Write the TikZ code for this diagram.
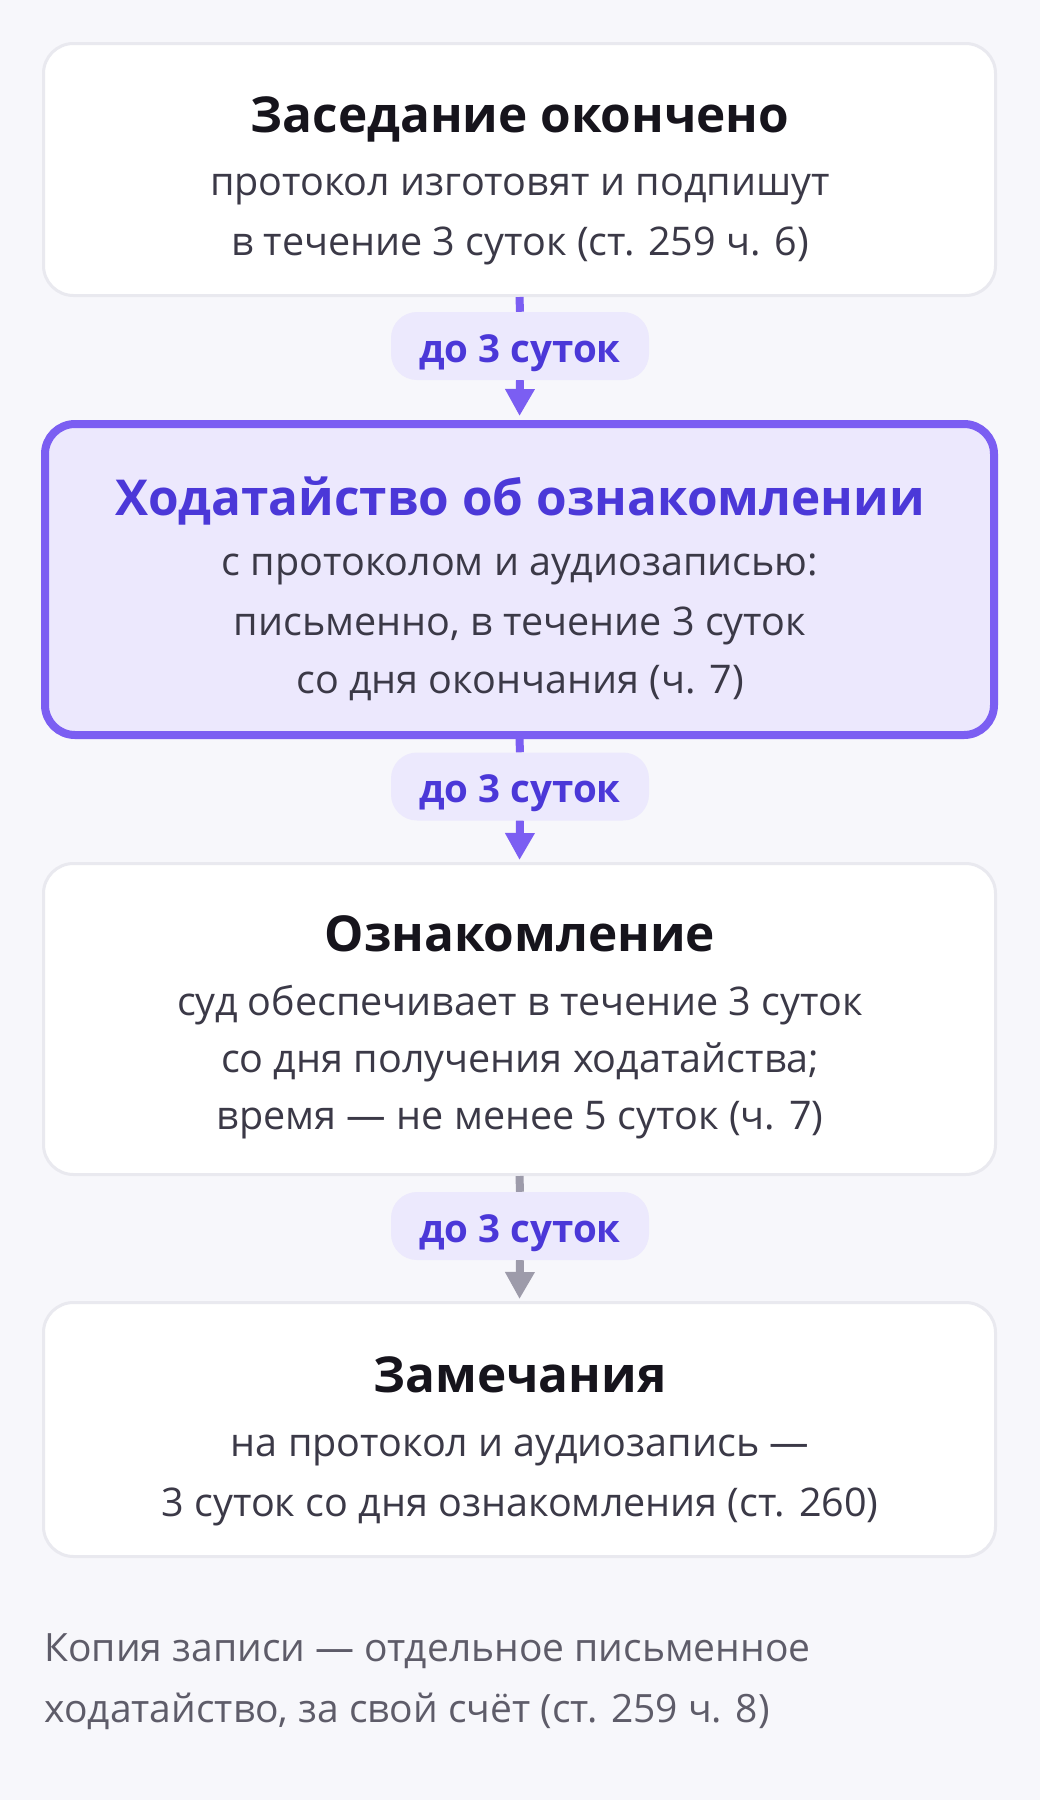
\documentclass[tikz,border=0pt]{standalone}
\usepackage{fontspec}
\setmainfont{Open Sans}
\usetikzlibrary{arrows.meta,positioning}

\definecolor{bgcol}{HTML}{F7F7FB}
\definecolor{edgecol}{HTML}{E9E9EF}
\definecolor{violet}{HTML}{7B5EF2}
\definecolor{lilac}{HTML}{ECE8FD}
\definecolor{pillcol}{HTML}{ECE9FD}
\definecolor{deepviolet}{HTML}{4B38D8}
\definecolor{titlecol}{HTML}{16141C}
\definecolor{bodycol}{HTML}{3B3947}
\definecolor{notecol}{HTML}{5E5C69}
\definecolor{greyarrow}{HTML}{9D9BAA}

\tikzset{
  box/.style={draw=edgecol, line width=3pt, fill=white, rounded corners=30pt,
    minimum width=952pt, inner sep=0pt},
  hlbox/.style={draw=violet, line width=8pt, fill=lilac, rounded corners=30pt,
    minimum width=949pt, inner sep=0pt},
  pill/.style={fill=pillcol, rounded corners=26pt, minimum width=258pt,
    minimum height=68pt, inner sep=0pt, text=deepviolet,
    text height=32pt, text depth=0pt,
    font=\fontsize{38.5}{44}\selectfont\bfseries},
  ttl/.style={anchor=base, text=titlecol, font=\fontsize{49.5}{56}\selectfont\bfseries},
  txt/.style={anchor=base, text=bodycol, font=\fontsize{39.5}{46}\selectfont},
  note/.style={anchor=base west, text=notecol, font=\fontsize{39}{46}\selectfont},
  flow/.style={draw=violet, line width=8pt},
  flowtip/.style={flow, -{Triangle[width=28pt,length=27pt]}},
}

\begin{document}
\begin{tikzpicture}[x=1pt, y=-1pt]
  % Background
  \fill[bgcol] (0,0) rectangle (1040,1800);
  \useasboundingbox (0,0) rectangle (1040,1800);

  % Boxes
  \node[box, minimum height=252pt] (end) at (519.5,169.5) {};
  \node[hlbox, minimum height=311pt] (motion) at (519.5,579.5) {};
  \node[box, minimum height=311pt] (study) at (519.5,1019) {};
  \node[box, minimum height=254pt] (remarks) at (519.5,1429.5) {};

  % Top box
  \node[ttl] (endttl) at (520,132) {Заседание окончено};
  \node[txt] (endtxta) at (520,195) {протокол изготовят и подпишут};
  \node[txt] (endtxtb) at (520,255) {в течение 3 суток (ст. 259 ч. 6)};

  % Highlighted box
  \node[ttl, text=deepviolet] (motionttl) at (520,515) {Ходатайство об ознакомлении};
  \node[txt] (motiontxta) at (520,575) {с протоколом и аудиозаписью:};
  \node[txt] (motiontxtb) at (520,635) {письменно, в течение 3 суток};
  \node[txt] (motiontxtc) at (520,693) {со дня окончания (ч. 7)};

  % Third box
  \node[ttl] (studyttl) at (520,951) {Ознакомление};
  \node[txt] (studytxta) at (520,1015) {суд обеспечивает в течение 3 суток};
  \node[txt] (studytxtb) at (520,1072) {со дня получения ходатайства;};
  \node[txt] (studytxtc) at (520,1129) {время — не менее 5 суток (ч. 7)};

  % Bottom box
  \node[ttl] (remarksttl) at (520,1392) {Замечания};
  \node[txt] (remarkstxta) at (520,1456) {на протокол и аудиозапись —};
  \node[txt] (remarkstxtb) at (520,1516) {3 суток со дня ознакомления (ст. 260)};

  % Pills
  \node[pill] (gapa) at (520,346) {до 3 суток};
  \node[pill] (gapb) at (520,786.5) {до 3 суток};
  \node[pill] (gapc) at (520,1226) {до 3 суток};

  % Connectors
  \draw[flow] (end.south) -- (gapa.north);
  \draw[flowtip, shorten >=4pt] (gapa.south) -- (motion.north);
  \draw[flow] (motion.south) -- (gapb.north);
  \draw[flowtip, shorten >=2pt] (gapb.south) -- (study.north);
  \draw[flow, draw=greyarrow] (study.south) -- (gapc.north);
  \draw[flowtip, draw=greyarrow, fill=greyarrow, shorten >=2pt] (gapc.south) -- (remarks.north);

  % Footnote
  \node[note] (notea) at (41,1661) {Копия записи — отдельное письменное};
  \node[note] (noteb) at (41,1722) {ходатайство, за свой счёт (ст. 259 ч. 8)};
\end{tikzpicture}
\end{document}
